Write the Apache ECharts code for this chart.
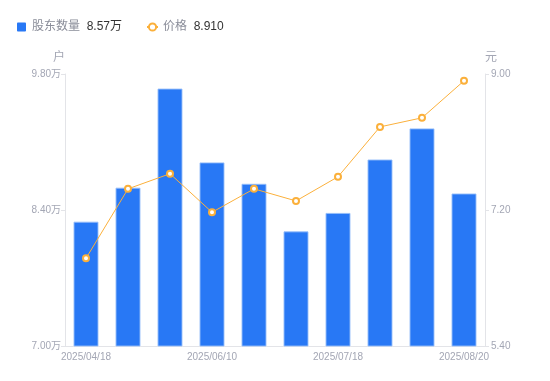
<!DOCTYPE html>
<html>
<head>
<meta charset="utf-8">
<script src="https://cdn.jsdelivr.net/npm/echarts@6/dist/echarts.min.js"></script>
<style>
  html, body { margin: 0; padding: 0; background: #fff; }
  #chart { width: 550px; height: 381px; }
</style>
</head>
<body>
<div id="chart"></div>
<script>
const dates = ['2025/04/18', '2025/04/30', '2025/05/20', '2025/06/10', '2025/06/20',
  '2025/06/30', '2025/07/18', '2025/07/31', '2025/08/10', '2025/08/20'];
const holders = [82800, 86300, 96500, 88900, 86700, 81800, 83700, 89200, 92400, 85700];
const prices = [6.56, 7.48, 7.68, 7.17, 7.48, 7.32, 7.64, 8.30, 8.42, 8.91];
const holderTicks = { min: 70000, max: 98000, interval: 14000 };
const priceTicks = { min: 5.4, max: 9.0, interval: 1.8 };

const blue = '#2878f5';
const orange = '#fbb03b';
const labelGray = '#a3a6b4';
const lineGray = '#e3e4e8';
const font = '"Liberation Sans", Arial, "Noto Sans CJK SC", sans-serif';

const chart = echarts.init(document.getElementById('chart'));

const lastHolder = (holders[holders.length - 1] / 10000).toFixed(2) + '万';
const lastPrice = prices[prices.length - 1].toFixed(3);

chart.setOption({
  animation: false,
  textStyle: { fontFamily: font },
  legend: {
    left: 12,
    top: 16,
    itemGap: 24,
    itemWidth: 11,
    itemHeight: 9,
    formatter: name => {
      const v = name === '股东数量' ? lastHolder : lastPrice;
      return '{n|' + name + '}  {v|' + v + '}';
    },
    textStyle: {
      fontFamily: font,
      rich: {
        n: { color: '#8a8d99', fontSize: 12, fontFamily: font },
        v: { color: '#333', fontSize: 12, fontFamily: font }
      }
    },
    data: [
      {
        name: '股东数量',
        icon: 'path://M1,0H9Q10,0 10,1V9Q10,10 9,10H1Q0,10 0,9V1Q0,0 1,0Z',
        itemStyle: { color: blue, borderWidth: 0 }
      },
      { name: '价格' }
    ]
  },
  grid: { left: 65, right: 65, top: 74, bottom: 35 },
  xAxis: {
    type: 'category',
    data: dates,
    axisLine: { lineStyle: { color: lineGray } },
    axisTick: { show: false },
    axisLabel: { color: labelGray, fontSize: 10, interval: 2, margin: 6 }
  },
  yAxis: [
    {
      type: 'value',
      name: '户',
      nameGap: 10,
      nameTextStyle: { color: labelGray, fontSize: 12, align: 'right' },
      min: holderTicks.min,
      max: holderTicks.max,
      interval: holderTicks.interval,
      axisLine: { show: true, lineStyle: { color: lineGray } },
      axisTick: { show: true, length: 4, lineStyle: { color: lineGray } },
      splitLine: { show: false },
      axisLabel: {
        color: labelGray,
        fontSize: 10,
        margin: 4,
        formatter: v => (v / 10000).toFixed(2) + '万'
      }
    },
    {
      type: 'value',
      name: '元',
      nameGap: 10,
      nameTextStyle: { color: labelGray, fontSize: 12, align: 'left' },
      min: priceTicks.min,
      max: priceTicks.max,
      interval: priceTicks.interval,
      axisLine: { show: true, lineStyle: { color: lineGray } },
      axisTick: { show: true, length: 4, lineStyle: { color: lineGray } },
      splitLine: { show: false },
      axisLabel: {
        color: labelGray,
        fontSize: 10,
        margin: 6,
        formatter: v => v.toFixed(2)
      }
    }
  ],
  series: [
    {
      name: '股东数量',
      type: 'bar',
      data: holders,
      barWidth: 25,
      itemStyle: { color: blue, borderColor: 'rgba(150,190,250,0.9)', borderWidth: 1 }
    },
    {
      name: '价格',
      type: 'line',
      yAxisIndex: 1,
      data: prices,
      symbol: 'circle',
      symbolSize: 6,
      lineStyle: { color: orange, width: 1 },
      itemStyle: { color: '#fff', borderColor: orange, borderWidth: 2 }
    }
  ]
});
</script>
</body>
</html>
